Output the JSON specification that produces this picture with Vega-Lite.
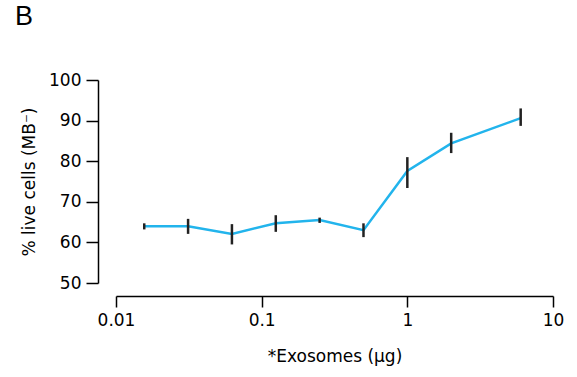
{
  "$schema": "https://vega.github.io/schema/vega-lite/v6.json",
  "autosize": "none",
  "padding": {"left": 116, "top": 80, "right": 24, "bottom": 94},
  "width": 437,
  "height": 203,
  "background": "white",
  "title": {"text": "B", "anchor": "start", "frame": "group", "dx": -101, "dy": -36, "fontSize": 27, "fontWeight": "normal", "font": "Liberation Sans", "color": "#000"},
  "config": {"view": {"stroke": null}, "font": "DejaVu Sans"},
  "data": {"values": [
    {"dose": 0.015625, "mean": 64.0, "lower": 63.2, "upper": 64.7},
    {"dose": 0.03125, "mean": 64.0, "lower": 62.1, "upper": 65.8},
    {"dose": 0.0625, "mean": 62.1, "lower": 59.5, "upper": 64.5},
    {"dose": 0.125, "mean": 64.7, "lower": 62.6, "upper": 66.7},
    {"dose": 0.25, "mean": 65.5, "lower": 64.8, "upper": 66.1},
    {"dose": 0.5, "mean": 63.0, "lower": 61.3, "upper": 64.7},
    {"dose": 1, "mean": 77.6, "lower": 73.4, "upper": 81.0},
    {"dose": 2, "mean": 84.4, "lower": 82.0, "upper": 87.0},
    {"dose": 6, "mean": 90.6, "lower": 88.7, "upper": 93.0}
  ]},
  "encoding": {
    "x": {"field": "dose", "type": "quantitative",
      "scale": {"type": "log", "domain": [0.01, 10], "nice": false},
      "axis": {"title": "*Exosomes (μg)", "values": [0.01, 0.1, 1, 10], "format": "~g", "offset": 13, "tickSize": 11, "tickWidth": 1.5, "domainWidth": 1.5, "domainColor": "#000", "tickColor": "#000", "labelColor": "#000", "labelFontSize": 17, "labelPadding": 5, "titleFontSize": 17, "titleFontWeight": "normal", "titleColor": "#000", "titlePadding": 20, "grid": false, "labelFlush": false}}
  },
  "layer": [
    {"mark": {"type": "line", "color": "#22b4ec", "strokeWidth": 2.5},
      "encoding": {"y": {"field": "mean", "type": "quantitative",
        "scale": {"domain": [50, 100], "nice": false, "zero": false},
        "axis": {"title": "% live cells (MB⁻)", "values": [50, 60, 70, 80, 90, 100], "offset": 18, "tickSize": 12, "tickWidth": 1.5, "domainWidth": 1.5, "domainColor": "#000", "tickColor": "#000", "labelColor": "#000", "labelFontSize": 17, "labelPadding": 5, "titleFontSize": 17, "titleFontWeight": "normal", "titleColor": "#000", "titlePadding": 10, "grid": false, "labelFlush": false}}}},
    {"mark": {"type": "rule", "color": "#222", "strokeWidth": 2.5},
      "encoding": {"y": {"field": "lower", "type": "quantitative"}, "y2": {"field": "upper"}}}
  ]
}
